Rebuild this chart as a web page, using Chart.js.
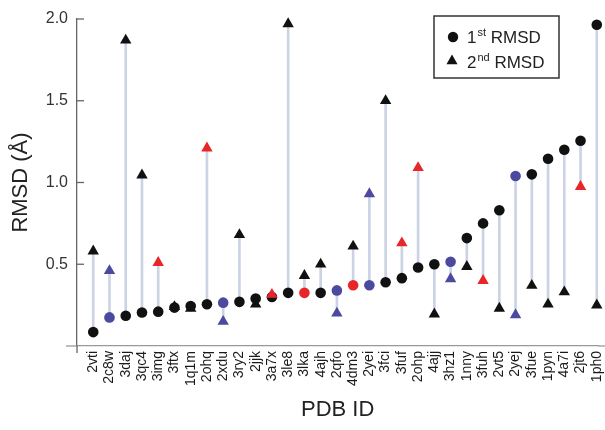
<!DOCTYPE html>
<html><head><meta charset="utf-8">
<script src="https://cdn.jsdelivr.net/npm/chart.js@4.4.0/dist/chart.umd.min.js"></script>
<style>html,body{margin:0;padding:0;background:#fff}#wrap{width:605px;height:430px}</style>
</head><body><div id="wrap"><canvas id="c" width="605" height="430"></canvas></div>
<script>
const pdbIds = ['2vti','2c8w','3daj','3qc4','3img','3ftx','1q1m','2ohq','2xdu','3ry2','2jjk','3a7x','3le8','3lka','4ajh','2qfo',
  '4dm3','2yei','3fci','3fuf','2ohp','4ajj','3hz1','1nny','3fuh','2vt5','2yej','3fue','1pyn','4a7i','2jt6','1ph0'];
const firstRmsd = [0.085,0.175,0.185,0.205,0.21,0.235,0.245,0.255,0.265,0.27,0.29,0.30,0.325,0.325,0.325,0.34,
  0.372,0.372,0.39,0.415,0.48,0.50,0.515,0.66,0.75,0.83,1.04,1.05,1.145,1.20,1.255,1.965];
const secondRmsd = [0.58,0.46,1.87,1.045,0.51,0.24,0.23,1.21,0.15,0.68,0.255,0.315,1.97,0.43,0.50,0.20,
  0.61,0.93,1.50,0.63,1.09,0.195,0.41,0.485,0.40,0.23,0.19,0.37,0.255,0.33,0.975,0.25];
const firstGroup = ['k','b','k','k','k','k','k','k','b','k','k','k','k','r','k','b',
  'r','b','k','k','k','k','b','k','k','k','b','k','k','k','k','k'];
const secondGroup = ['k','b','k','k','r','k','k','r','b','k','k','r','k','k','k','b',
  'k','b','k','r','r','k','b','k','r','k','b','k','k','k','r','k'];
const yTickValues = [0, 0.5, 1.0, 1.5, 2.0];
const seriesNames = ['1st RMSD', '2nd RMSD'];

const groupColor = {k: '#111111', b: '#4b4a9e', r: '#e8262a'};
const FONT = "'Liberation Sans', Arial, Helvetica, sans-serif";
Chart.defaults.font.family = FONT;

const axisExtras = {
  id: 'axisExtras',
  afterDraw(chart) {
    const {ctx, scales: {x, y}, chartArea: a} = chart;
    const line = (x1, y1, x2, y2) => { ctx.beginPath(); ctx.moveTo(x1, y1); ctx.lineTo(x2, y2); ctx.stroke(); };
    ctx.save();
    ctx.lineWidth = 1.3;
    ctx.strokeStyle = '#666';
    yTickValues.forEach(v => { if (v === 0) return; const py = y.getPixelForValue(v); line(a.left, py, a.left + 7, py); });
    line(a.left, a.bottom, a.left, a.bottom + 7);
    ctx.strokeStyle = '#999';
    line(a.left - 11, a.bottom, a.left, a.bottom);
    line(a.right, a.bottom, chart.width, a.bottom);
    ctx.restore();
  }
};

const legendBox = {
  id: 'legendBox',
  afterDraw(chart) {
    const {ctx} = chart;
    const bx = 434, by = 16, bw = 125, bh = 62;
    ctx.save();
    ctx.fillStyle = '#fff';
    ctx.fillRect(bx, by, bw, bh);
    ctx.strokeStyle = '#333';
    ctx.lineWidth = 1.5;
    ctx.strokeRect(bx, by, bw, bh);
    ctx.fillStyle = '#111';
    ctx.beginPath(); ctx.arc(bx + 19, by + 21, 5.2, 0, Math.PI * 2); ctx.fill();
    const tr = 6.4, tx = bx + 18, ty = by + 45;
    ctx.beginPath();
    ctx.moveTo(tx, ty - tr);
    ctx.lineTo(tx + tr * Math.sin(2 * Math.PI / 3), ty - tr * Math.cos(2 * Math.PI / 3));
    ctx.lineTo(tx + tr * Math.sin(4 * Math.PI / 3), ty - tr * Math.cos(4 * Math.PI / 3));
    ctx.closePath(); ctx.fill();
    const parts = [['1', 'st', ' RMSD', by + 27], ['2', 'nd', ' RMSD', by + 52]];
    ctx.fillStyle = '#222';
    ctx.textBaseline = 'alphabetic';
    parts.forEach(([a, sup, rest, base]) => {
      let x0 = bx + 33;
      ctx.font = '17px ' + FONT;
      ctx.fillText(a, x0, base); x0 += ctx.measureText(a).width + 1;
      ctx.font = '11px ' + FONT;
      ctx.fillText(sup, x0, base - 7); x0 += ctx.measureText(sup).width;
      ctx.font = '17px ' + FONT;
      ctx.fillText(rest, x0, base);
    });
    ctx.restore();
  }
};

const stems = pdbIds.map((id, i) => ({x: i, y: [Math.min(firstRmsd[i], secondRmsd[i]), Math.max(firstRmsd[i], secondRmsd[i])]}));

new Chart(document.getElementById('c'), {
  type: 'scatter',
  data: {
    datasets: [
      {type: 'bar', label: 'stem', data: stems, backgroundColor: '#cbd3e5', borderWidth: 0, barThickness: 2, order: 3, clip: false},
      {type: 'scatter', label: seriesNames[0], data: firstRmsd.map((v, i) => ({x: i, y: v})),
        pointStyle: 'circle', pointRadius: 5.3, pointBorderWidth: 0, clip: false,
        pointBackgroundColor: firstGroup.map(g => groupColor[g]), order: 2},
      {type: 'scatter', label: seriesNames[1], data: secondRmsd.map((v, i) => ({x: i, y: v})),
        pointStyle: 'triangle', pointRadius: 6.6, pointBorderWidth: 0, clip: false,
        pointBackgroundColor: secondGroup.map(g => groupColor[g]), order: 1}
    ]
  },
  options: {
    responsive: false,
    animation: false,
    events: [],
    layout: {padding: {top: 19, right: 1, left: 0, bottom: 0}},
    plugins: {legend: {display: false}, tooltip: {enabled: false}},
    scales: {
      x: {
        type: 'linear', min: -1, max: 31.1, offset: false,
        grid: {display: false, drawTicks: false, offset: false},
        border: {display: true, color: '#999', width: 1.3},
        afterFit: s => { s.height = 84; s.paddingLeft = 0; s.paddingRight = 0; },
        ticks: {
          stepSize: 1, autoSkip: false, includeBounds: false, maxRotation: 90, minRotation: 90,
          padding: 5, color: '#1a1a1a', font: {size: 14},
          callback: v => (Number.isInteger(v) && pdbIds[v] !== undefined) ? pdbIds[v] : ''
        },
        title: {display: true, text: 'PDB ID', color: '#222', font: {size: 22}, padding: {top: 0, bottom: 7}}
      },
      y: {
        type: 'linear', min: 0, max: 2.0,
        grid: {display: false, drawTicks: false},
        border: {display: true, color: '#666', width: 1.3},
        afterFit: s => { s.width = 77; s.paddingTop = 0; s.paddingBottom = 0; },
        afterBuildTicks: s => { s.ticks = yTickValues.map(v => ({value: v})); },
        ticks: {
          padding: 9, color: '#333', font: {size: 16},
          callback: v => v === 0 ? '' : v.toFixed(1)
        },
        title: {display: true, text: 'RMSD (Å)', color: '#222', font: {size: 22}, padding: {top: 8, bottom: 0}}
      }
    }
  },
  plugins: [axisExtras, legendBox]
});
</script></body></html>
